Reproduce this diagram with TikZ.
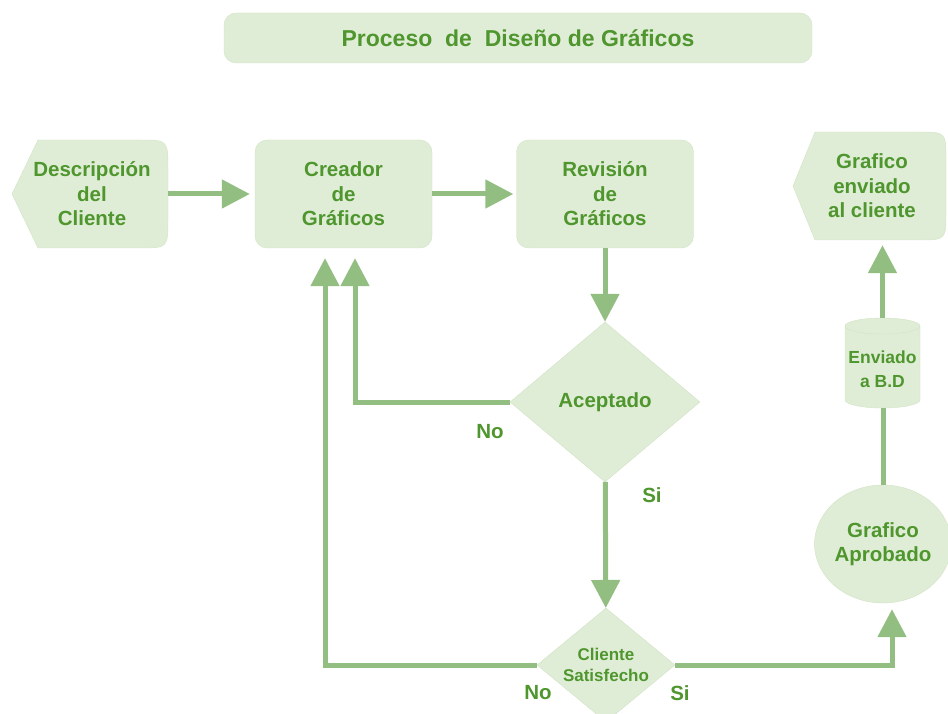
\documentclass[tikz,border=0pt]{standalone}
\usepackage{fontspec}
\setmainfont{Liberation Sans}
\usetikzlibrary{arrows.meta,shapes.geometric}
\definecolor{boxfill}{RGB}{224,237,214}
\definecolor{boxline}{RGB}{210,227,198}
\definecolor{txtgreen}{RGB}{78,150,45}
\definecolor{arrgreen}{RGB}{147,190,130}

\begin{document}
\begin{tikzpicture}[x=1pt,y=-1pt,
 font=\fontsize{20.5}{24.5}\selectfont\bfseries,
 txt/.style={text=txtgreen,align=center,inner sep=0pt},
 box/.style={txt,draw=boxline,fill=boxfill,rounded corners=12pt,minimum width=177pt,minimum height=108pt},
 dec/.style={txt,diamond,draw=boxline,fill=boxfill},
 flow/.style={draw=arrgreen,line width=5pt},
 arr/.style={-{Triangle[width=28pt,length=28pt]}}]
 \useasboundingbox (0,0) rectangle (948,714);
 \clip (0,0) rectangle (948,714);
 \node[box,minimum width=588pt,minimum height=50pt,font=\fontsize{23}{27}\selectfont\bfseries] (title) at (518,38) {Proceso\ \ de\ \ Diseño de Gráficos};
 \fill[boxfill,draw=boxline] (12,194) -- (38,140) -- (140,140) .. controls (168,140) .. (168,170) -- (168,218) .. controls (168,248) .. (140,248) -- (38,248) -- cycle;
 \node[txt,minimum width=152pt,minimum height=108pt] (desc) at (92,194) {Descripción\\del\\Cliente};
 \node[box] (crea) at (343.5,194) {Creador\\de\\Gráficos};
 \node[box] (rev) at (605,194) {Revisión\\de\\Gráficos};
 \node[dec,aspect=1.19,minimum width=190pt,minimum height=160pt] (acep) at (605,402) {Aceptado};
 \node[dec,aspect=1.21,minimum width=138pt,minimum height=114pt,font=\fontsize{17}{21}\selectfont\bfseries] (cli) at (606,665) {Cliente\\Satisfecho};
 \node[txt,ellipse,draw=boxline,fill=boxfill,minimum width=130pt,minimum height=118pt] (apro) at (883,544) {Grafico\\Aprobado};
 \fill[boxfill,draw=boxline] (845,326) -- (845,400) arc[start angle=180,end angle=0,x radius=37.5,y radius=8] -- (920,326) arc[start angle=0,end angle=-180,x radius=37.5,y radius=8] -- cycle;
 \draw[boxline] (845,326) arc[start angle=180,end angle=0,x radius=37.5,y radius=8];
 \node[minimum width=75pt,minimum height=90pt,inner sep=0pt,label={[txt,font=\fontsize{17.5}{24}\selectfont\bfseries,yshift=-6pt]center:{Enviado\\a B.D}}] (bd) at (882.5,363) {};
 \fill[boxfill,draw=boxline] (793,186) -- (815,132) -- (918,132) .. controls (946,132) .. (946,160) -- (946,212) .. controls (946,240) .. (918,240) -- (815,240) -- cycle;
 \node[txt,minimum width=148pt,minimum height=108pt] (env) at (872,186) {Grafico\\enviado\\al cliente};
 \draw[flow,arr,shorten >=5pt] (desc) -- (crea);
 \draw[flow,arr,shorten >=3pt] (crea) -- (rev);
 \draw[flow,arr] (rev) -- (acep);
 \draw[flow,arr,shorten >=10pt] (acep.west) -| ([xshift=11.5pt]crea.south);
 \draw[flow,arr] (acep) -- (cli);
 \draw[flow,arr,shorten >=10pt] (cli.west) -| ([xshift=-18.5pt]crea.south);
 \draw[flow,arr,shorten >=6pt] (cli.east) -| ([xshift=9pt]apro.south);
 \draw[flow] (apro.north) -- (apro.north |- bd.south);
 \draw[flow,arr,shorten >=5pt] (bd.north) -- (bd.north |- env.south);
 \node[txt] (no1) at (490,432) {No};
 \node[txt] (si1) at (652,495) {Si};
 \node[txt] (no2) at (538,693) {No};
 \node[txt] (si2) at (680,693) {Si};
\end{tikzpicture}
\end{document}
